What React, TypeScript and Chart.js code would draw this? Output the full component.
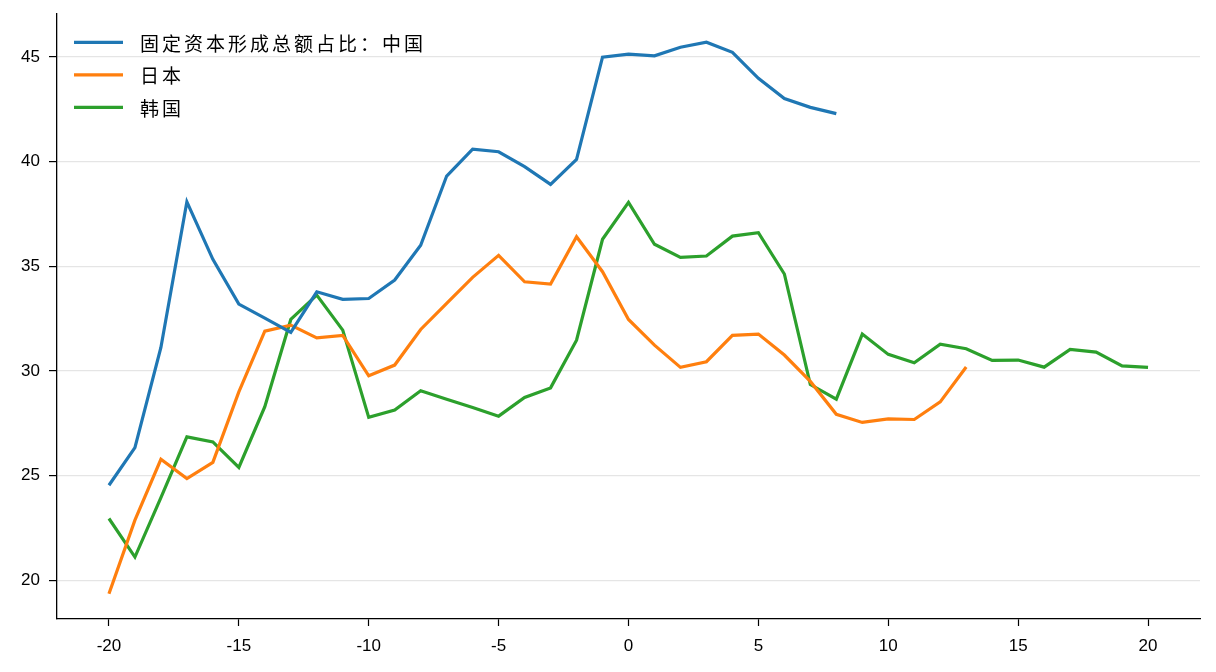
import React, { useEffect, useRef } from "react";
import { Chart, registerables } from "chart.js";

Chart.register(...registerables);

const years = [-20, -19, -18, -17, -16, -15, -14, -13, -12, -11, -10, -9, -8, -7, -6, -5, -4, -3, -2, -1, 0, 1, 2, 3, 4, 5, 6, 7, 8, 9, 10, 11, 12, 13, 14, 15, 16, 17, 18, 19, 20];

const chinaValues = [24.54, 26.34, 31.12, 38.08, 35.33, 33.19, 32.52, 31.84, 33.78, 33.42, 33.46, 34.34, 36.0, 39.31, 40.59, 40.47, 39.76, 38.91, 40.10, 44.99, 45.13, 45.05, 45.46, 45.70, 45.22, 43.98, 43.01, 42.59, 42.29];
const japanValues = [19.36, 22.87, 25.78, 24.86, 25.63, 29.0, 31.90, 32.19, 31.58, 31.70, 29.77, 30.28, 31.98, 33.23, 34.47, 35.52, 34.26, 34.15, 36.41, 34.74, 32.46, 31.23, 30.17, 30.44, 31.70, 31.76, 30.76, 29.5, 27.93, 27.54, 27.71, 27.68, 28.52, 30.19];
const koreaValues = [22.95, 21.11, 23.95, 26.85, 26.61, 25.39, 28.29, 32.46, 33.62, 31.95, 27.78, 28.13, 29.05, 28.65, 28.25, 27.84, 28.73, 29.19, 31.47, 36.29, 38.05, 36.05, 35.42, 35.49, 36.44, 36.60, 34.63, 29.35, 28.65, 31.76, 30.79, 30.39, 31.28, 31.06, 30.50, 30.52, 30.18, 31.03, 30.90, 30.24, 30.17];

const seriesNames = ["固定资本形成总额占比：中国", "日本", "韩国"];
const seriesColors = ["#1f77b4", "#ff7f0e", "#2ca02c"];
const xTicks = [-20, -15, -10, -5, 0, 5, 10, 15, 20];
const yTicks = [20, 25, 30, 35, 40, 45];

const toPoints = (vals: number[]) => vals.map((v, i) => ({ x: years[i], y: v }));

const innerLegend = {
  id: "innerLegend",
  afterDraw(chart: any) {
    const ctx = chart.ctx;
    const area = chart.chartArea;
    ctx.save();
    chart.data.datasets.forEach((ds: any, i: number) => {
      const y = area.top + 28.3 + i * 32.5;
      const x0 = area.left + 17;
      ctx.strokeStyle = ds.borderColor;
      ctx.lineWidth = 3.2;
      ctx.beginPath();
      ctx.moveTo(x0, y);
      ctx.lineTo(x0 + 49, y);
      ctx.stroke();
      ctx.fillStyle = "#000";
      ctx.font = '19px "Noto Sans CJK SC", sans-serif';
      (ctx as any).letterSpacing = "3px";
      ctx.textBaseline = "middle";
      ctx.fillText(ds.label, x0 + 66, y + 1);
    });
    ctx.restore();
  },
};

export default function App() {
  const ref = useRef<HTMLCanvasElement>(null);
  useEffect(() => {
    document.body.style.margin = "0";
    const datasets = [chinaValues, japanValues, koreaValues].map((vals, i) => ({
      label: seriesNames[i],
      data: toPoints(vals),
      borderColor: seriesColors[i],
      backgroundColor: seriesColors[i],
      borderWidth: 3.2,
      pointRadius: 0,
      tension: 0,
      fill: false,
    }));
    const tickFont = { family: '"Liberation Sans", Arial, sans-serif', size: 17 };
    const chart = new Chart(ref.current!, {
      type: "line",
      data: { datasets },
      plugins: [innerLegend],
      options: {
        animation: false,
        responsive: false,
        devicePixelRatio: 1,
        layout: { padding: { left: 0, right: 16, top: 14, bottom: 0 } },
        plugins: { legend: { display: false }, tooltip: { enabled: false } },
        scales: {
          x: {
            type: "linear",
            min: -22,
            max: 22,
            afterBuildTicks: (s: any) => {
              s.ticks = xTicks.map((v) => ({ value: v }));
            },
            afterFit: (s: any) => {
              s.height = 53;
              s.paddingLeft = 0;
              s.paddingRight = 0;
            },
            grid: { drawOnChartArea: false, drawTicks: true, tickLength: 7, tickColor: "#000", tickWidth: 1.2 },
            border: { display: true, color: "#000", width: 1.3 },
            ticks: { color: "#000", font: tickFont, padding: 10, maxRotation: 0, callback: (v: any) => String(v) },
          },
          y: {
            type: "linear",
            min: 18.15,
            max: 47.05,
            afterBuildTicks: (s: any) => {
              s.ticks = yTicks.map((v) => ({ value: v }));
            },
            afterFit: (s: any) => {
              s.width = 57;
              s.paddingTop = 0;
              s.paddingBottom = 0;
            },
            grid: { color: "#e5e5e5", lineWidth: 1.2, drawTicks: true, tickLength: 8, tickColor: "#000", tickWidth: 1.2 },
            border: { display: true, color: "#000", width: 1.3 },
            ticks: { color: "#000", font: tickFont, padding: 9, callback: (v: any) => String(v) },
          },
        },
      },
    });
    return () => chart.destroy();
  }, []);
  return (
    <div style={{ width: 1216, height: 672, background: "#fff" }}>
      <canvas ref={ref} width={1216} height={672} style={{ display: "block" }} />
    </div>
  );
}
